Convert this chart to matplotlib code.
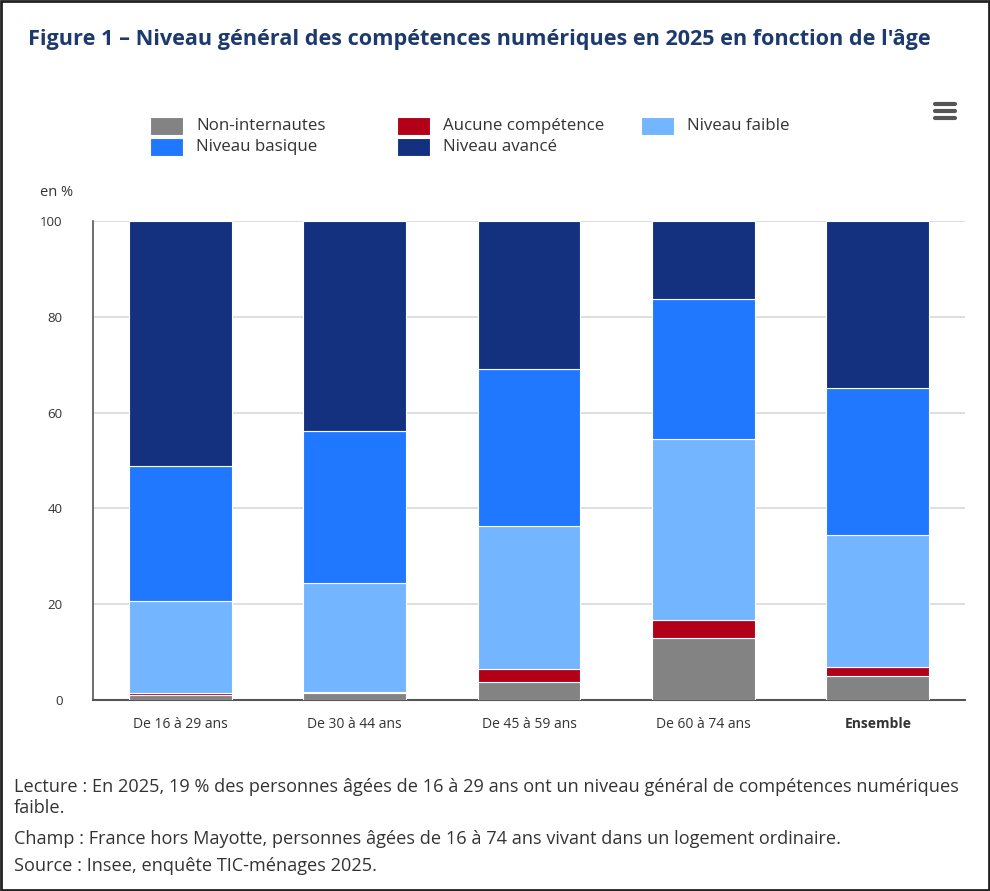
import matplotlib
matplotlib.use("Agg")
import matplotlib.pyplot as plt
from matplotlib.patches import Rectangle
from matplotlib.lines import Line2D
import numpy as np

categories = ["De 16 à 29 ans", "De 30 à 44 ans", "De 45 à 59 ans", "De 60 à 74 ans", "Ensemble"]
series_names = ["Non-internautes", "Aucune compétence", "Niveau faible", "Niveau basique", "Niveau avancé"]
non_internautes = [1.0, 1.5, 3.8, 12.9, 5.0]
aucune = [0.5, 0.1, 2.7, 3.9, 1.9]
faible = [19.2, 22.8, 29.8, 37.7, 27.5]
basique = [28.1, 31.8, 32.8, 29.2, 30.7]
avance = [51.2, 43.8, 30.9, 16.3, 34.9]
yticks = [0, 20, 40, 60, 80, 100]

colors = ["#838383", "#b20019", "#74b5ff", "#1f78ff", "#13317f"]
font = "Open Sans"

fig = plt.figure(figsize=(9.9, 8.91), dpi=100)
W, H = 990, 891
ax = fig.add_axes([93 / W, 1 - 700 / H, (965 - 93) / W, (700 - 221) / H])

x = np.arange(len(categories))
bottom = np.zeros(len(categories))
for name, vals, c in zip(series_names, [non_internautes, aucune, faible, basique, avance], colors):
    ax.bar(x, vals, bottom=bottom, width=0.59, color=c, edgecolor="white", linewidth=0.8, label=name, zorder=3)
    bottom += np.array(vals)

ax.set_xlim(-0.5, len(categories) - 0.5)
ax.set_ylim(0, 100)
ax.set_yticks(yticks)
ax.set_yticklabels([str(t) for t in yticks], fontsize=9.5, color="#333333", family=font)
ax.set_xticks(x)
ax.set_xticklabels(categories, fontsize=10, color="#333333", family=font)
for lbl in ax.get_xticklabels():
    if lbl.get_text() == "Ensemble":
        lbl.set_fontweight("bold")
ax.tick_params(axis="both", length=0, pad=12)
ax.tick_params(axis="y", pad=22)
ax.grid(axis="y", color="#d9d9d9", linewidth=1.2, zorder=0)
for s in ["top", "right"]:
    ax.spines[s].set_visible(False)
ax.spines["left"].set_color("#555555")
ax.spines["bottom"].set_color("#555555")
ax.spines["left"].set_linewidth(1.2)
ax.spines["bottom"].set_linewidth(1.5)

fig.text(28 / W, 1 - 40 / H, "Figure 1 – Niveau général des compétences numériques en 2025 en fonction de l'âge",
         fontsize=15.6, fontweight="bold", color="#1d3a6e", family=font, va="center", ha="left")

fig.text(40 / W, 1 - 193 / H, "en %", fontsize=10.5, color="#333333", family=font, va="center")

# legend: fixed-width columns, row-wise order
leg_pos = [(150, 126), (397, 126), (641, 126), (150, 147), (397, 147)]
for (lx, ly), name, c in zip(leg_pos, series_names, colors):
    fig.add_artist(Rectangle((lx / W, 1 - (ly + 8.5) / H), 33 / W, 17 / H, transform=fig.transFigure,
                             facecolor=c, edgecolor="white", linewidth=0.8))
    fig.text((lx + 46) / W, 1 - ly / H, name, fontsize=12.2, color="#333333", family=font,
             va="center", ha="left")

# hamburger icon
for yy in [104, 111, 118]:
    fig.add_artist(Line2D([935 / W, 955 / W], [1 - yy / H, 1 - yy / H], color="#555555",
                          linewidth=3, solid_capstyle="round"))

notes = [
    (787, "Lecture : En 2025, 19 % des personnes âgées de 16 à 29 ans ont un niveau général de compétences numériques"),
    (808, "faible."),
    (839, "Champ : France hors Mayotte, personnes âgées de 16 à 74 ans vivant dans un logement ordinaire."),
    (866, "Source : Insee, enquête TIC-ménages 2025."),
]
for yy, t in notes:
    fig.text(14 / W, 1 - yy / H, t, fontsize=13.1, color="#333333", family=font, va="center", ha="left")

# outer frame
fig.add_artist(Rectangle((0.001, 0.001), 0.998, 0.998, transform=fig.transFigure, fill=False,
                         edgecolor="#222222", linewidth=2))

fig.savefig("out.png", dpi=100)
